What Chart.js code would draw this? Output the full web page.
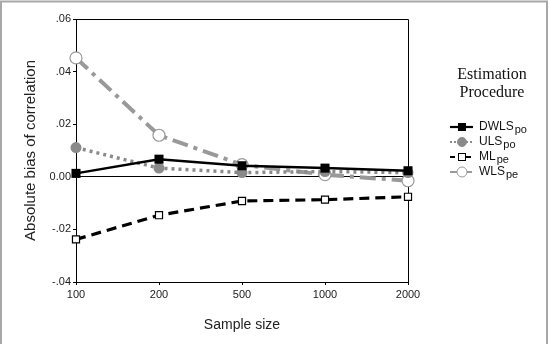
<!DOCTYPE html>
<html>
<head>
<meta charset="utf-8">
<script src="https://cdn.jsdelivr.net/npm/chart.js@4.4.1/dist/chart.umd.min.js"></script>
<style>
  html, body { margin: 0; padding: 0; background: #fff; }
  #wrap { position: relative; width: 553px; height: 344px; }
</style>
</head>
<body>
<div id="wrap"><canvas id="myChart" width="553" height="344"></canvas></div>
<script>
// sample sizes on the x axis
const sampleSizes = ["100", "200", "500", "1000", "2000"];

// absolute bias of correlation
const dwlsPo = [0.0013, 0.0067, 0.0042, 0.0033, 0.0023];
const ulsPo = [0.0111, 0.0033, 0.0016, 0.0020, 0.0016];
const mlPe = [-0.0238, -0.0146, -0.0092, -0.0087, -0.0076];
const wlsPe = [0.0452, 0.0158, 0.0046, 0.0008, -0.0015];

// legend names: main part + subscript
const seriesNames = ["DWLS", "ULS", "ML", "WLS"];
const seriesSubs = ["po", "po", "pe", "pe"];

const yMin = -0.04;
const yMax = 0.06;
const yStep = 0.02;

const fontSans = "'Liberation Sans', Arial, sans-serif";
const fontSerif = "'Liberation Serif', 'Times New Roman', serif";

function fmtTick(v) {
  if (Math.abs(v) < 1e-9) return "0.00";
  let s = v.toFixed(2);
  return s.replace("0.", ".");
}

// draws the top/right sides of the plot box and the outer frame
const boxPlugin = {
  id: "box",
  beforeDatasetsDraw(chart) {
    const a = chart.chartArea;
    const ctx = chart.ctx;
    ctx.save();
    ctx.strokeStyle = "#000";
    ctx.lineWidth = 1;
    ctx.beginPath();
    ctx.moveTo(a.left, Math.round(a.top) + 0.5);
    ctx.lineTo(a.right + 0.5, Math.round(a.top) + 0.5);
    ctx.lineTo(a.right + 0.5, a.bottom);
    ctx.stroke();
    ctx.restore();
  },
  afterDraw(chart) {
    const ctx = chart.ctx;
    ctx.save();
    ctx.strokeStyle = "#a8a8a8";
    ctx.lineWidth = 2;
    ctx.beginPath();
    ctx.moveTo(1, 344);
    ctx.lineTo(1, 1.5);
    ctx.lineTo(547, 1.5);
    ctx.lineTo(547, 344);
    ctx.stroke();
    ctx.restore();
  }
};

// legend with title and subscripted labels
const legendPlugin = {
  id: "customLegend",
  afterDraw(chart) {
    const ctx = chart.ctx;
    ctx.save();
    ctx.fillStyle = "#111";
    ctx.textAlign = "center";
    ctx.textBaseline = "middle";
    ctx.font = "16px " + fontSerif;
    ctx.fillText("Estimation", 492, 75);
    ctx.fillText("Procedure", 492, 93);

    const rowY = [127, 142, 157, 172];
    chart.data.datasets.forEach((ds, i) => {
      const y = rowY[i];
      ctx.save();
      ctx.strokeStyle = ds.borderColor;
      ctx.lineWidth = Math.min(ds.borderWidth, 2.2);
      ctx.setLineDash(ds.legendDash);
      ctx.beginPath();
      ctx.moveTo(450, y);
      ctx.lineTo(473, y);
      ctx.stroke();
      ctx.setLineDash([]);
      ctx.fillStyle = ds.pointBackgroundColor;
      ctx.strokeStyle = ds.pointBorderColor;
      ctx.lineWidth = 1;
      if (ds.pointStyle === "rect") {
        const s = ds.legendSize;
        ctx.fillRect(462 - s / 2, y - s / 2, s, s);
        ctx.strokeRect(462 - s / 2, y - s / 2, s, s);
      } else {
        ctx.beginPath();
        ctx.arc(462, y, ds.legendSize / 2, 0, Math.PI * 2);
        ctx.fill();
        ctx.stroke();
      }
      ctx.restore();

      ctx.fillStyle = "#111";
      ctx.textAlign = "left";
      ctx.textBaseline = "middle";
      ctx.font = "12px " + fontSans;
      ctx.fillText(seriesNames[i], 479, y);
      const w = ctx.measureText(seriesNames[i]).width;
      ctx.font = "11px " + fontSans;
      ctx.fillText(seriesSubs[i], 479 + w + 1, y + 2.5);
    });
    ctx.restore();
  }
};

const ctx = document.getElementById("myChart").getContext("2d");
const myChart = new Chart(ctx, {
  type: "line",
  data: {
    labels: sampleSizes,
    datasets: [
      {
        label: "DWLSpo",
        data: dwlsPo,
        borderColor: "#000",
        borderWidth: 2.5,
        pointStyle: "rect",
        pointRadius: 6.4,
        pointBackgroundColor: "#000",
        pointBorderColor: "#000",
        pointBorderWidth: 0,
        legendDash: [],
        legendSize: 7,
        clip: false
      },
      {
        label: "ULSpo",
        data: ulsPo,
        borderColor: "#8a8a8a",
        borderWidth: 3.5,
        borderDash: [3, 4],
        pointStyle: "circle",
        pointRadius: 5.5,
        pointBackgroundColor: "#8a8a8a",
        pointBorderColor: "#8a8a8a",
        pointBorderWidth: 0,
        legendDash: [2, 2],
        legendSize: 9,
        clip: false
      },
      {
        label: "MLpe",
        data: mlPe,
        borderColor: "#000",
        borderWidth: 3.2,
        borderDash: [10, 6],
        pointStyle: "rect",
        pointRadius: 5,
        pointBackgroundColor: "#fff",
        pointBorderColor: "#000",
        pointBorderWidth: 1.2,
        legendDash: [5, 3],
        legendSize: 7,
        clip: false
      },
      {
        label: "WLSpe",
        data: wlsPe,
        borderColor: "#999",
        borderWidth: 4,
        borderDash: [16, 6, 4, 6],
        pointStyle: "circle",
        pointRadius: 6,
        pointBackgroundColor: "#fff",
        pointBorderColor: "#999",
        pointBorderWidth: 1.2,
        legendDash: [7, 3, 2, 3],
        legendSize: 10,
        clip: false
      }
    ]
  },
  options: {
    responsive: false,
    animation: false,
    tension: 0,
    layout: { padding: { top: 19, right: 145, left: 0, bottom: 0 } },
    plugins: {
      legend: { display: false },
      tooltip: { enabled: false }
    },
    scales: {
      x: {
        type: "category",
        offset: false,
        afterFit(scale) { scale.height = 62; },
        grid: { drawOnChartArea: false, tickColor: "#000", tickLength: 3 },
        border: { color: "#000", width: 1 },
        ticks: { color: "#222", padding: 3, maxRotation: 0, font: { family: fontSans, size: 11 } },
        title: {
          display: true,
          text: "Sample size",
          color: "#222",
          font: { family: fontSans, size: 14 },
          padding: { top: 0, bottom: 10 }
        }
      },
      y: {
        min: yMin,
        max: yMax,
        afterFit(scale) { scale.width = 76; },
        grid: {
          color: (c) => (c.tick && Math.abs(c.tick.value) < 1e-9 ? "#000" : "rgba(0,0,0,0)"),
          tickColor: "#000",
          tickLength: 3,
          lineWidth: 1
        },
        border: { color: "#000", width: 1 },
        ticks: {
          stepSize: yStep,
          color: "#222",
          padding: 2,
          font: { family: fontSans, size: 11 },
          callback: (v) => fmtTick(v)
        },
        title: {
          display: true,
          text: "Absolute bias of correlation",
          color: "#222",
          font: { family: fontSans, size: 15 },
          padding: { top: 22, bottom: 0 }
        }
      }
    }
  },
  plugins: [boxPlugin, legendPlugin]
});
</script>
</body>
</html>
